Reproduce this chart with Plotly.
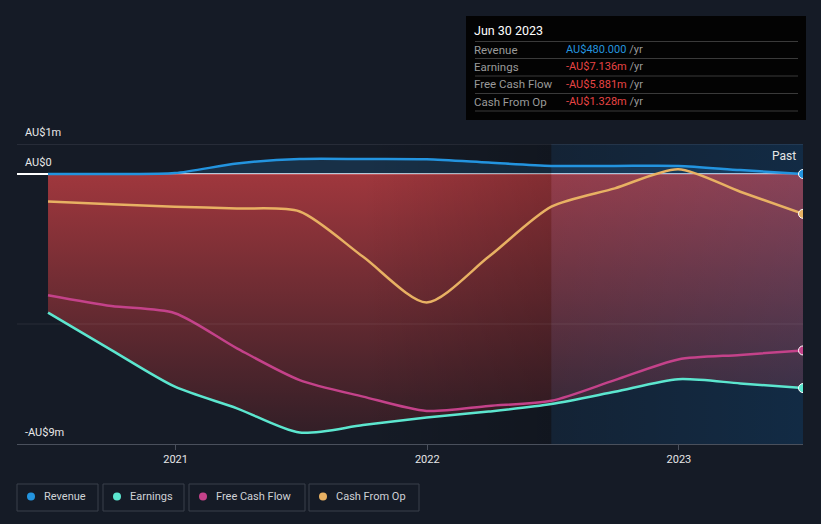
import plotly.graph_objects as go

# ---------------- data (AU$ millions) ----------------
dates = ["2020-06-30", "2020-09-30", "2020-12-31", "2021-03-31", "2021-06-30",
         "2021-09-30", "2021-12-31", "2022-03-31", "2022-06-30", "2022-09-30",
         "2022-12-31", "2023-03-31", "2023-06-30"]
revenue = [0.0, 0.0, 0.03, 0.35, 0.5, 0.5, 0.49, 0.38, 0.27, 0.27, 0.27, 0.13, 0.00048]
earnings = [-4.62, -5.87, -7.09, -7.81, -8.62, -8.37, -8.12, -7.92, -7.67, -7.26, -6.84, -6.98, -7.136]
free_cash_flow = [-4.04, -4.40, -4.64, -5.81, -6.87, -7.42, -7.90, -7.73, -7.56, -6.87, -6.18, -6.03, -5.881]
cash_from_op = [-0.92, -1.01, -1.09, -1.15, -1.25, -2.76, -4.28, -2.76, -1.09, -0.48, 0.16, -0.59, -1.328]

series_names = ["Revenue", "Earnings", "Free Cash Flow", "Cash From Op"]
series_colors = ["#2394df", "#5ce6cf", "#c4428a", "#e8b163"]

y_range = [-9, 1]
y_label_vals = [1, 0, -9]
y_label_text = ["AU$1m", "AU$0", "-AU$9m"]
x_tick_vals = ["2021-01-01", "2022-01-01", "2023-01-01"]
x_tick_text = ["2021", "2022", "2023"]
x_range = ["2020-05-16", "2023-06-30"]

tip_title = "Jun 30 2023"
tip_values = ["AU$480.000", "-AU$7.136m", "-AU$5.881m", "-AU$1.328m"]
tip_value_colors = ["#2394df", "#e84545", "#e84545", "#e84545"]

# ---------------- geometry helpers ----------------
W, H = 821, 524
ML, MR, MT, MB = 17, 18, 144, 80
PW, PH = W - ML - MR, H - MT - MB


def xp(px):
    return (px - ML) / PW


def yp(py):
    return (H - MB - py) / PH


BG = "#151b26"
FONT = "Roboto"

fig = go.Figure()

# earnings area (gradient red, semi transparent so zero line tints through)
fig.add_trace(go.Scatter(
    x=dates, y=earnings, mode="lines", line=dict(width=0, shape="spline", smoothing=0.75),
    fill="tozeroy",
    fillgradient=dict(type="vertical", start=y_range[0], stop=0,
                      colorscale=[[0, "rgba(50,30,38,0.85)"], [1, "rgba(184,60,65,0.85)"]]),
    hoverinfo="skip", showlegend=False))

# revenue area
fig.add_trace(go.Scatter(
    x=dates, y=revenue, mode="lines", line=dict(width=0, shape="spline", smoothing=0.75),
    fill="tozeroy", fillcolor="rgba(30,90,140,0.33)",
    hoverinfo="skip", showlegend=False))

# darkening band before the "past" year
fig.add_trace(go.Scatter(
    x=[dates[5], dates[8], dates[8], dates[5], dates[5]],
    y=[y_range[1], y_range[1], y_range[0], y_range[0], y_range[1]],
    mode="lines", line=dict(width=0), fill="toself",
    fillgradient=dict(type="horizontal",
                      colorscale=[[0, "rgba(0,0,0,0)"], [1, "rgba(0,0,0,0.18)"]]),
    hoverinfo="skip", showlegend=False))

# "past" highlighted year
fig.add_trace(go.Scatter(
    x=[dates[8], dates[-1], dates[-1], dates[8], dates[8]],
    y=[y_range[1], y_range[1], y_range[0], y_range[0], y_range[1]],
    mode="lines", line=dict(width=0), fill="toself",
    fillgradient=dict(type="horizontal",
                      colorscale=[[0, "rgba(0,140,255,0.07)"], [1, "rgba(0,140,255,0.14)"]]),
    hoverinfo="skip", showlegend=False))

# lines
for name, vals, col in [("Earnings", earnings, series_colors[1]),
                        ("Free Cash Flow", free_cash_flow, series_colors[2]),
                        ("Cash From Op", cash_from_op, series_colors[3]),
                        ("Revenue", revenue, series_colors[0])]:
    fig.add_trace(go.Scatter(
        x=dates, y=vals, mode="lines", name=name,
        line=dict(color=col, width=2.5, shape="spline", smoothing=0.75),
        hoverinfo="skip", showlegend=False))

# end markers
for vals, col in [(earnings, series_colors[1]), (free_cash_flow, series_colors[2]),
                  (cash_from_op, series_colors[3]), (revenue, series_colors[0])]:
    fig.add_trace(go.Scatter(
        x=[dates[-1]], y=[vals[-1]], mode="markers",
        marker=dict(size=9, color=col, line=dict(color="white", width=1)),
        hoverinfo="skip", showlegend=False))

shapes = []
annotations = []

# gridlines
shapes.append(dict(type="line", xref="paper", x0=0, x1=1, yref="y", y0=y_label_vals[0],
                   y1=y_label_vals[0], line=dict(color="#3a3f4a", width=1), layer="between"))
shapes.append(dict(type="line", xref="paper", x0=0, x1=1, yref="y", y0=-5, y1=-5,
                   line=dict(color="rgba(255,255,255,0.08)", width=1), layer="above"))

# y labels
for v, t in zip(y_label_vals, y_label_text):
    annotations.append(dict(x=xp(23), xref="paper", y=v, yref="y", yshift=12,
                            text=t, showarrow=False, xanchor="left", yanchor="middle",
                            font=dict(family=FONT, size=11, color="#e8e8e8")))

# "Past"
annotations.append(dict(x=xp(798), xref="paper", y=yp(156), yref="paper", text="Past",
                        showarrow=False, xanchor="right", yanchor="middle",
                        font=dict(family=FONT, size=12, color="#e6e6e6")))

# tooltip box
shapes.append(dict(type="rect", xref="paper", yref="paper", x0=xp(466), x1=xp(806),
                   y0=yp(120), y1=yp(16), fillcolor="#030303", line=dict(width=0),
                   layer="above"))
for sy in [41.5, 58.5, 76, 93.5, 111]:
    shapes.append(dict(type="line", xref="paper", yref="paper", x0=xp(475), x1=xp(798),
                       y0=yp(sy), y1=yp(sy), line=dict(color="#3a3a3a", width=1),
                       layer="above"))
annotations.append(dict(x=xp(472), xref="paper", y=yp(31), yref="paper", text=tip_title,
                        showarrow=False, xanchor="left", yanchor="middle",
                        font=dict(family=FONT, size=12.5, color="#ffffff")))
for i, (lab, val, vc) in enumerate(zip(series_names, tip_values, tip_value_colors)):
    ry = [49.5, 66.5, 84, 101.5][i]
    annotations.append(dict(x=xp(472), xref="paper", y=yp(ry), yref="paper", text=lab,
                            showarrow=False, xanchor="left", yanchor="middle",
                            font=dict(family=FONT, size=11.5, color="#9a9a9a")))
    annotations.append(dict(x=xp(564), xref="paper", y=yp(ry), yref="paper",
                            text=f'<span style="color:{vc}">{val}</span> /yr',
                            showarrow=False, xanchor="left", yanchor="middle",
                            font=dict(family=FONT, size=11, color="#9a9a9a")))

# custom legend
legend_boxes = [(17, 98), (103, 184), (189, 305), (309, 419)]
for (bx0, bx1), name, col in zip(legend_boxes, series_names, series_colors):
    shapes.append(dict(type="rect", xref="paper", yref="paper", x0=xp(bx0), x1=xp(bx1),
                       y0=yp(511), y1=yp(484), line=dict(color="#3a404b", width=1),
                       fillcolor="rgba(0,0,0,0)"))
    cx, cy = bx0 + 14, 496.5
    shapes.append(dict(type="circle", xref="paper", yref="paper", x0=xp(cx - 4), x1=xp(cx + 4),
                       y0=yp(cy + 4), y1=yp(cy - 4), fillcolor=col, line=dict(width=0)))
    annotations.append(dict(x=xp(bx0 + 25), xref="paper", y=yp(496), yref="paper", text=name,
                            showarrow=False, xanchor="left", yanchor="middle",
                            font=dict(family=FONT, size=11, color="#cfd2d6")))

fig.update_layout(
    width=W, height=H,
    margin=dict(l=ML, r=MR, t=MT, b=MB),
    paper_bgcolor=BG, plot_bgcolor=BG,
    showlegend=False,
    shapes=shapes, annotations=annotations,
    font=dict(family=FONT),
    xaxis=dict(type="date", range=x_range, tickvals=x_tick_vals, ticktext=x_tick_text,
               showgrid=False, zeroline=False, showline=True, linecolor="#4a505c",
               linewidth=1, ticks="outside", ticklen=5, tickcolor="#4a505c",
               tickfont=dict(family=FONT, size=11, color="#e6e6e6"), fixedrange=True),
    yaxis=dict(range=y_range, showgrid=False, showticklabels=False, zeroline=True,
               zerolinecolor="#ffffff", zerolinewidth=1.5, fixedrange=True),
)

fig.write_html("out.html", config={"displayModeBar": False})
